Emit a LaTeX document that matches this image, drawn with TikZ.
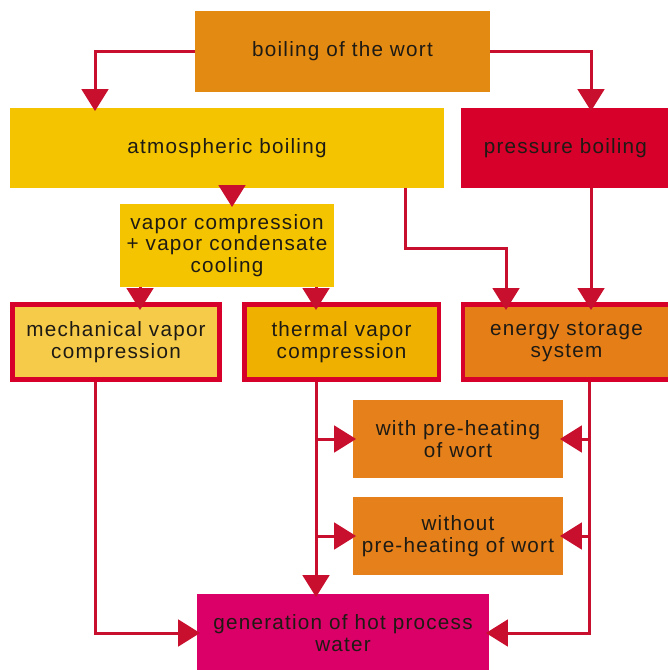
\documentclass[tikz,border=0pt]{standalone}
\usepackage{fontspec}
\setmainfont{Liberation Sans}[LetterSpace=6]
\usetikzlibrary{arrows.meta,calc}
\definecolor{cTop}{HTML}{E38A12}
\definecolor{cAtm}{HTML}{F4C400}
\definecolor{cPress}{HTML}{D6002A}
\definecolor{cMech}{HTML}{F6CB4A}
\definecolor{cTherm}{HTML}{EFB000}
\definecolor{cEnergy}{HTML}{E57E17}
\definecolor{cPre}{HTML}{E5801A}
\definecolor{cGen}{HTML}{DA0068}
\definecolor{cBord}{HTML}{D6002A}
\definecolor{cLine}{HTML}{C8102E}
\definecolor{cText}{HTML}{1E1A14}
\begin{document}
\begin{tikzpicture}[x=0.75pt,y=-0.75pt,
  box/.style={rectangle, inner sep=0pt, align=center, text=cText,
    font=\fontsize{15.5}{16.3}\selectfont},
  rbox/.style={box, draw=cBord, line width=3.4pt},
  arr/.style={draw=cLine, line width=2.25pt, -{Triangle[length=16.5pt,width=20pt]}, shorten >=-2.5pt},
  arrb/.style={arr, shorten >=-6pt}]
\useasboundingbox (0,0) rectangle (667,670);

\node[box, fill=cTop, minimum width=221.25pt, minimum height=60.75pt] (top) at (342.5,51.5) {boiling of the wort};
\node[box, fill=cAtm, minimum width=325.5pt, minimum height=60pt] (atm) at (227,148) {atmospheric boiling};
\node[box, fill=cPress, minimum width=158.25pt, minimum height=60pt, text width=152pt, align=left] (press) at (566.5,148) {\hspace*{14pt}pressure boiling};
\node[box, fill=cAtm, minimum width=160.5pt, minimum height=62.25pt] (vc) at (227,245.5) {vapor compression\\+ vapor condensate\\cooling};
\node[rbox, fill=cMech, minimum width=155.6pt, minimum height=56.6pt] (mech) at (116,342) {mechanical vapor\\compression};
\node[rbox, fill=cTherm, minimum width=145.9pt, minimum height=56.6pt] (therm) at (341.5,342) {thermal vapor\\compression};
\node[rbox, fill=cEnergy, minimum width=155pt, minimum height=56.6pt] (en) at (566.5,342) {energy storage\\system};
\node[box, fill=cPre, minimum width=157.5pt, minimum height=58.5pt] (with) at (458,439) {with pre-heating\\of wort};
\node[box, fill=cPre, minimum width=157.5pt, minimum height=58.5pt] (without) at (458,536) {without\\pre-heating of wort};
\node[box, fill=cGen, minimum width=219pt, minimum height=58.5pt] (gen) at (343,633) {generation of hot process\\water};

% top branches
\draw[arr] (top.west) -| (95,0 |- atm.north);
\draw[arr] (top.east) -| (591,0 |- press.north);
% atmospheric
\draw[arr] (232,0 |- atm.south) -- (232,0 |- vc.north);
\draw[arrb] (405,0 |- atm.south) |- (506,248) -- (506,0 |- en.north);
% pressure
\draw[arrb] (591,0 |- press.south) -- (591,0 |- en.north);
% vapor compression
\draw[arrb] (140,0 |- vc.south) -- (140,0 |- mech.north);
\draw[arrb] (316,0 |- vc.south) -- (316,0 |- therm.north);
% mechanical
\draw[arr] (95,0 |- mech.south) |- (gen.west);
% thermal
\draw[arr] (316,0 |- therm.south) -- (316,0 |- gen.north);
\draw[arr] (316,0 |- with.west) -- (with.west);
\draw[arr] (316,0 |- without.west) -- (without.west);
% energy
\draw[arr] (589,0 |- en.south) |- (gen.east);
\draw[arr] (589,0 |- with.east) -- (with.east);
\draw[arr] (589,0 |- without.east) -- (without.east);
\end{tikzpicture}
\end{document}
